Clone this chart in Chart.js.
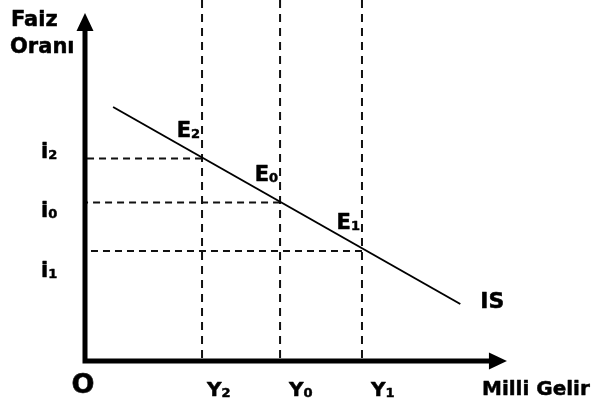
<!DOCTYPE html>
<html>
<head>
<meta charset="utf-8">
<script src="https://cdn.jsdelivr.net/npm/chart.js@4.4.1/dist/chart.umd.min.js"></script>
<style>
  html, body { margin: 0; padding: 0; background: #fff; }
  #wrap { width: 598px; height: 403px; position: relative; }
</style>
</head>
<body>
<div id="wrap"><canvas id="isChart"></canvas></div>
<script>
// income levels on the horizontal axis: Y2, Y0, Y1
const incomeSubs = ['2', '0', '1'];
const incomeValues = [3.0, 5.0, 7.1];

// interest rates on the vertical axis: i2, i0, i1 (same order, they meet on IS)
const rateSubs = ['2', '0', '1'];
const rateValues = [4.05, 3.17, 2.2];

// equilibrium points E2, E0, E1
const pointSubs = ['2', '0', '1'];

// IS curve end points
const isX = [0.72, 9.62];
const isY = [5.08, 1.14];

// where the axis lines stop (arrow heads start there) and the scale ranges
const axisEndX = 10.38;
const axisEndY = 6.62;
const xMax = 13.15;
const yMax = 7.22;

const FONT = '"DejaVu Sans", Verdana, sans-serif';
const INK = '#000';

// build the line datasets from the arrays above
const datasets = [];

// axes (one polyline so the corner joins cleanly)
datasets.push({
    data: [{ x: 0, y: axisEndY }, { x: 0, y: 0 }, { x: axisEndX, y: 0 }],
    borderColor: INK,
    borderWidth: 5,
    borderJoinStyle: 'miter',
    borderCapStyle: 'butt'
});

// IS curve
datasets.push({
    data: isX.map((x, k) => ({ x: x, y: isY[k] })),
    borderColor: INK,
    borderWidth: 2
});

// dashed guides
incomeValues.forEach((xv, k) => {
    datasets.push({
        data: [{ x: xv, y: yMax }, { x: xv, y: 0 }],
        borderColor: '#111',
        borderWidth: 2,
        borderDash: [8, 6]
    });
    datasets.push({
        data: [{ x: xv, y: rateValues[k] }, { x: 0, y: rateValues[k] }],
        borderColor: '#111',
        borderWidth: 2,
        borderDash: [7, 5]
    });
});

datasets.forEach(d => {
    d.showLine = true;
    d.pointRadius = 0;
    d.pointHoverRadius = 0;
    d.tension = 0;
    d.fill = false;
    d.clip = false; // axes sit on the chart area edge, don't cut them in half
});

// heavier bold text (the original face is a chunky Tahoma-like bold)
function boldText(ctx, txt, x, y) {
    ctx.fillText(txt, x, y);
    ctx.strokeText(txt, x, y);
}

// letter + smaller digit on the same baseline
function subText(ctx, main, sub, x, y, size, align) {
    ctx.font = 'bold ' + size + 'px ' + FONT;
    const w1 = ctx.measureText(main).width;
    const subSize = Math.round(size * 0.64);
    ctx.font = 'bold ' + subSize + 'px ' + FONT;
    const w2 = ctx.measureText(sub).width;
    let left = x;
    if (align === 'right') left = x - w1 - w2;
    ctx.textAlign = 'left';
    ctx.textBaseline = 'alphabetic';
    ctx.font = 'bold ' + size + 'px ' + FONT;
    boldText(ctx, main, left, y);
    ctx.font = 'bold ' + subSize + 'px ' + FONT;
    boldText(ctx, sub, left + w1, y + 1);
}

const labelsPlugin = {
    id: 'isLabels',
    afterDatasetsDraw(chart) {
        const ctx = chart.ctx;
        const xs = chart.scales.x, ys = chart.scales.y;
        const ox = xs.getPixelForValue(0), oy = ys.getPixelForValue(0);
        ctx.save();
        ctx.fillStyle = INK;
        ctx.strokeStyle = INK;
        ctx.lineWidth = 0.5;
        ctx.lineJoin = 'round';

        // arrow heads
        const ax = xs.getPixelForValue(axisEndX);
        ctx.beginPath();
        ctx.moveTo(ax - 1, oy - 8.5);
        ctx.lineTo(ax + 17, oy);
        ctx.lineTo(ax - 1, oy + 8.5);
        ctx.closePath();
        ctx.fill();
        const ay = ys.getPixelForValue(axisEndY);
        ctx.beginPath();
        ctx.moveTo(ox - 8.5, ay + 1);
        ctx.lineTo(ox, ay - 17);
        ctx.lineTo(ox + 8.5, ay + 1);
        ctx.closePath();
        ctx.fill();

        // axis titles
        ctx.font = 'bold 21px ' + FONT;
        ctx.textAlign = 'left';
        ctx.textBaseline = 'alphabetic';
        boldText(ctx, 'Faiz', 11, 26);
        boldText(ctx, 'Oranı', 10, 53);
        ctx.font = 'bold 20px ' + FONT;
        boldText(ctx, 'Milli Gelir', 482, 395);
        ctx.font = 'bold 27px ' + FONT;
        ctx.textAlign = 'center';
        boldText(ctx, 'O', ox - 2, oy + 32);

        // rate labels
        const rateDy = [-1, 14, 26];
        rateValues.forEach((v, k) => {
            subText(ctx, 'i', rateSubs[k], 41, ys.getPixelForValue(v) + rateDy[k], 21, 'left');
        });

        // income labels
        const incomeDx = [5, 9, 9];
        incomeValues.forEach((v, k) => {
            subText(ctx, 'Y', incomeSubs[k], xs.getPixelForValue(v) + incomeDx[k], oy + 35, 20, 'left');
        });

        // equilibrium points
        incomeValues.forEach((v, k) => {
            subText(ctx, 'E', pointSubs[k], xs.getPixelForValue(v) - 2, ys.getPixelForValue(rateValues[k]) - 22, 21, 'right');
        });

        // IS tag at the end of the curve
        ctx.font = 'bold 22px ' + FONT;
        ctx.textAlign = 'left';
        boldText(ctx, 'IS', xs.getPixelForValue(isX[1]) + 20, ys.getPixelForValue(isY[1]) + 4);

        ctx.restore();
    }
};

new Chart(document.getElementById('isChart'), {
    type: 'scatter',
    data: { datasets: datasets },
    options: {
        responsive: true,
        maintainAspectRatio: false,
        animation: false,
        events: [],
        layout: { padding: { left: 85, right: 0, top: 0, bottom: 42 } },
        plugins: {
            legend: { display: false },
            tooltip: { enabled: false }
        },
        scales: {
            x: { type: 'linear', min: 0, max: xMax, display: false },
            y: { type: 'linear', min: 0, max: yMax, display: false }
        }
    },
    plugins: [labelsPlugin]
});
</script>
</body>
</html>
